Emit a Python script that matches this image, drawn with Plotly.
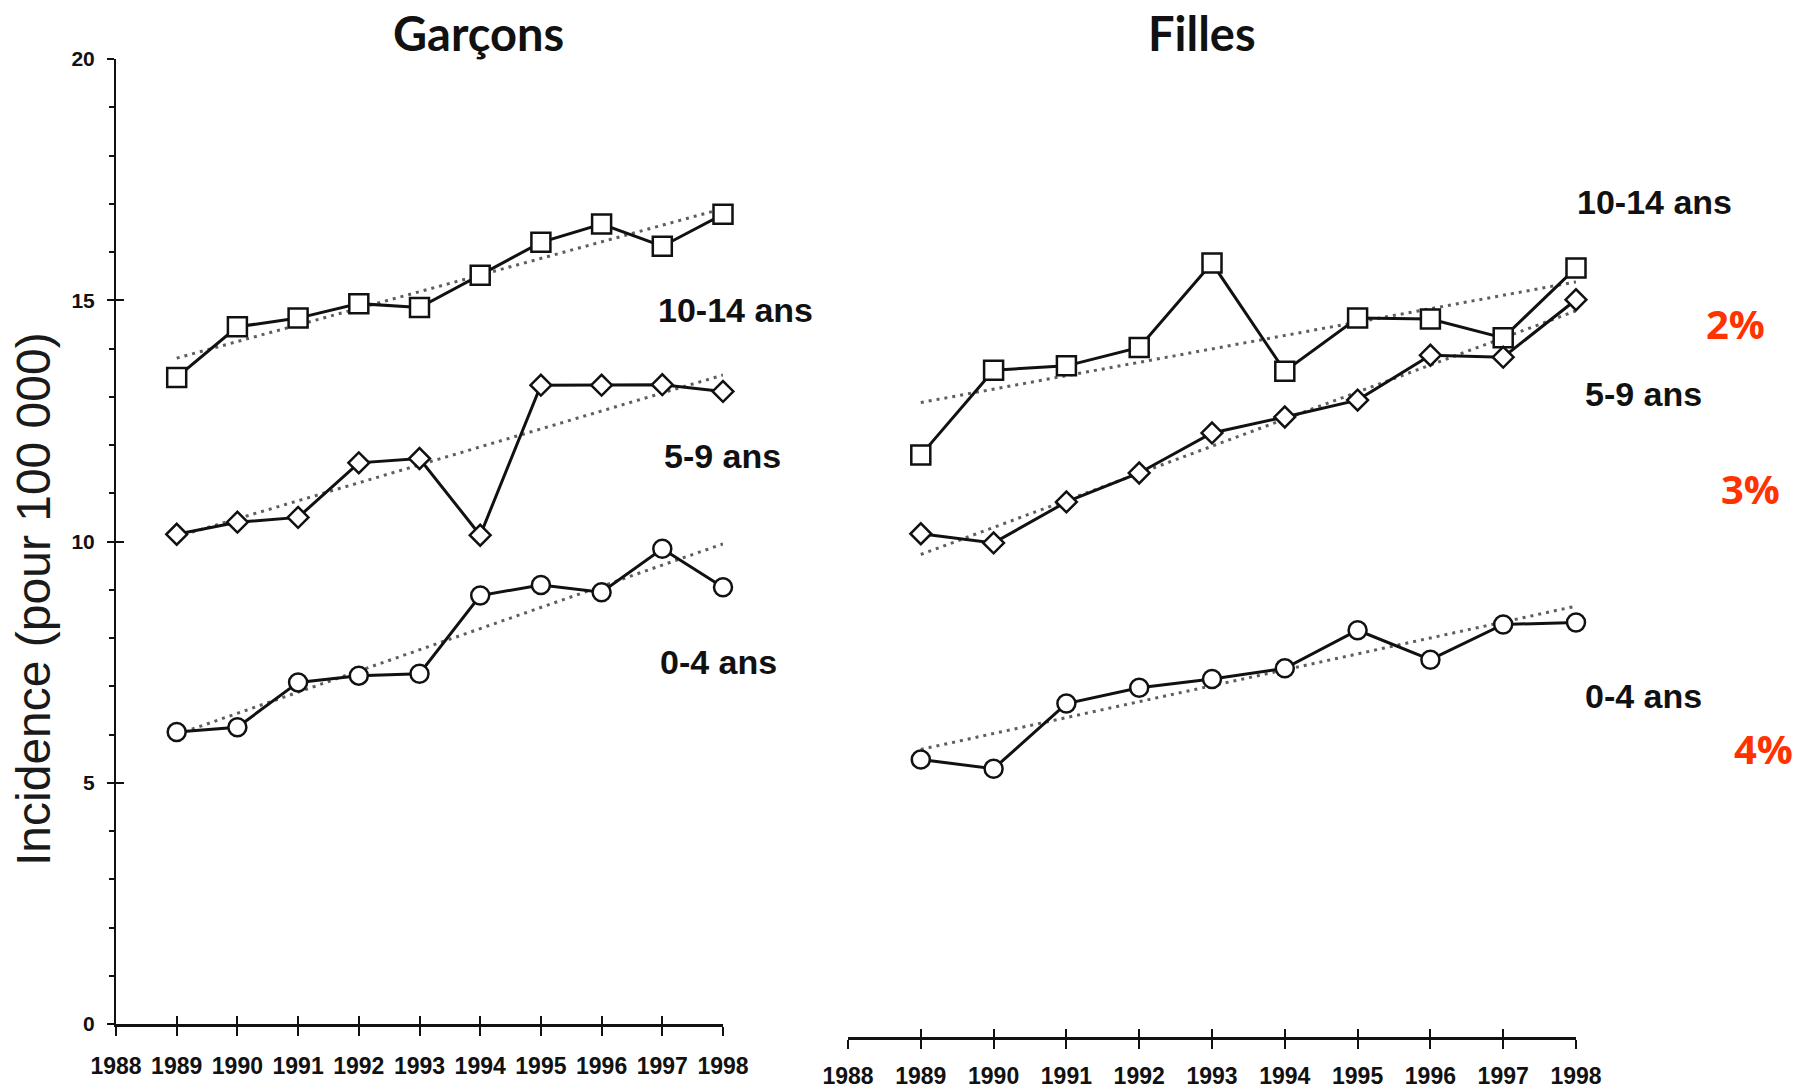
import plotly.graph_objects as go

W, H = 1797, 1092

years = [1989, 1990, 1991, 1992, 1993, 1994, 1995, 1996, 1997, 1998]
tick_years = [1988, 1989, 1990, 1991, 1992, 1993, 1994, 1995, 1996, 1997, 1998]

boys_10_14 = [13.4, 14.45, 14.63, 14.93, 14.85, 15.52, 16.2, 16.58, 16.12, 16.78]
boys_5_9 = [10.15, 10.4, 10.5, 11.63, 11.72, 10.13, 13.24, 13.24, 13.25, 13.11]
boys_0_4 = [6.05, 6.15, 7.08, 7.22, 7.26, 8.88, 9.1, 8.95, 9.85, 9.05]

girls_10_14 = [12.06, 13.82, 13.91, 14.29, 16.04, 13.8, 14.9, 14.88, 14.49, 15.94]
girls_5_9 = [10.43, 10.24, 11.09, 11.69, 12.52, 12.85, 13.2, 14.13, 14.09, 15.28]
girls_0_4 = [5.75, 5.56, 6.91, 7.24, 7.42, 7.64, 8.43, 7.82, 8.55, 8.59]

trend_years = [1989, 1998]
boys_trend_10_14 = [13.8, 16.9]
boys_trend_5_9 = [10.1, 13.45]
boys_trend_0_4 = [6.0, 9.95]
girls_trend_10_14 = [13.15, 15.65]
girls_trend_5_9 = [10.0, 15.05]
girls_trend_0_4 = [5.96, 8.93]

age_labels = ["10-14 ans", "5-9 ans", "0-4 ans"]
pct_labels = ["2%", "3%", "4%"]
panel_titles = ["Garçons", "Filles"]
y_title = "Incidence (pour 100 000)"


def px_x(p):
    return p / W


def px_y(p):
    return 1 - p / H


SANS = "Liberation Sans, Arial, sans-serif"
INK = "#111111"

fig = go.Figure()

series = [
    (boys_10_14, boys_trend_10_14, "square", 19, "x", "y"),
    (boys_5_9, boys_trend_5_9, "diamond", 16, "x", "y"),
    (boys_0_4, boys_trend_0_4, "circle", 18, "x", "y"),
    (girls_10_14, girls_trend_10_14, "square", 19, "x2", "y2"),
    (girls_5_9, girls_trend_5_9, "diamond", 16, "x2", "y2"),
    (girls_0_4, girls_trend_0_4, "circle", 18, "x2", "y2"),
]

for vals, trend, sym, size, xa, ya in series:
    fig.add_trace(go.Scatter(
        x=trend_years, y=trend, mode="lines", xaxis=xa, yaxis=ya,
        line=dict(color="#5e5e5e", width=3, dash="3px,5px"),
        showlegend=False, hoverinfo="skip", cliponaxis=False))
for vals, trend, sym, size, xa, ya in series:
    fig.add_trace(go.Scatter(
        x=years, y=vals, mode="lines+markers", xaxis=xa, yaxis=ya,
        line=dict(color=INK, width=3),
        marker=dict(symbol=sym, size=size, color="white",
                    line=dict(color=INK, width=2.5)),
        showlegend=False, cliponaxis=False))

# invisible helper traces for overlay axes (crossing ticks)
fig.add_trace(go.Scatter(x=[1988], y=[0], xaxis="x3", yaxis="y3", mode="markers",
                         marker=dict(opacity=0), showlegend=False, hoverinfo="skip"))
fig.add_trace(go.Scatter(x=[1988], y=[0], xaxis="x4", yaxis="y2", mode="markers",
                         marker=dict(opacity=0), showlegend=False, hoverinfo="skip"))

left_x = [px_x(116), px_x(723)]
right_x = [px_x(848), px_x(1576)]
left_y = [px_y(1024), px_y(59)]
right_y = [px_y(1037), px_y(72)]

xcommon = dict(range=[1988, 1998], tickvals=tick_years, showgrid=False, zeroline=False,
               showline=True, linecolor=INK, linewidth=3, ticks="outside", ticklen=9,
               tickwidth=2, tickcolor=INK, tickangle=0, automargin=False,
               tickfont=dict(family=SANS, size=23, color=INK, weight="bold"))

overlay_common = dict(ticks="inside", ticklen=8, tickwidth=2, tickcolor=INK,
                      showticklabels=False, showline=False, showgrid=False,
                      zeroline=False, automargin=False)

fig.update_layout(
    width=W, height=H,
    margin=dict(l=0, r=0, t=0, b=0, autoexpand=False),
    paper_bgcolor="white", plot_bgcolor="white",
    xaxis=dict(domain=left_x, anchor="y", ticklabelstandoff=10, **xcommon),
    yaxis=dict(domain=left_y, anchor="x", range=[0, 20], tickvals=[0, 5, 10, 15, 20],
               showgrid=False, zeroline=False, showline=True, linecolor=INK, linewidth=2,
               ticks="outside", ticklen=7, tickwidth=2, tickcolor=INK, automargin=False,
               tickfont=dict(family=SANS, size=21, color=INK, weight="bold"),
               ticklabelstandoff=8,
               minor=dict(dtick=1, ticks="outside", ticklen=5, tickwidth=1.5, tickcolor=INK)),
    xaxis2=dict(domain=right_x, anchor="y2", ticklabelstandoff=7, **xcommon),
    yaxis2=dict(domain=right_y, anchor="x2", range=[0, 20], visible=False, automargin=False),
    xaxis3=dict(domain=left_x, anchor="y3", overlaying="x", range=[1988, 1998],
                tickvals=tick_years, **overlay_common),
    yaxis3=dict(domain=left_y, anchor="x3", overlaying="y", range=[0, 20],
                tickvals=[0, 5, 10, 15, 20], **overlay_common),
    xaxis4=dict(domain=right_x, anchor="y2", overlaying="x2", range=[1988, 1998],
                tickvals=tick_years, **overlay_common),
)

annotations = []
for text, cx in zip(panel_titles, [478, 1202]):
    annotations.append(dict(text=text, x=px_x(cx), y=px_y(33), xref="paper", yref="paper",
                            showarrow=False, xanchor="center", yanchor="middle",
                            font=dict(family="Lato, Open Sans, sans-serif", size=47,
                                      color=INK, weight="bold")))
left_pos = [(735, 310), (722, 456), (718, 662)]
right_pos = [(1654, 202), (1643, 394), (1643, 696)]
for text, (cx, cy) in zip(age_labels, left_pos):
    annotations.append(dict(text=text, x=px_x(cx), y=px_y(cy), xref="paper", yref="paper",
                            showarrow=False, xanchor="center", yanchor="middle",
                            font=dict(family=SANS, size=34, color=INK, weight="bold")))
for text, (cx, cy) in zip(age_labels, right_pos):
    annotations.append(dict(text=text, x=px_x(cx), y=px_y(cy), xref="paper", yref="paper",
                            showarrow=False, xanchor="center", yanchor="middle",
                            font=dict(family=SANS, size=34, color=INK, weight="bold")))
pct_pos = [(1735, 323), (1750, 489), (1763, 748)]
for text, (cx, cy) in zip(pct_labels, pct_pos):
    annotations.append(dict(text=text, x=px_x(cx), y=px_y(cy), xref="paper", yref="paper",
                            showarrow=False, xanchor="center", yanchor="middle",
                            font=dict(family="Open Sans, Noto Sans, sans-serif", size=40,
                                      color="#ff3300", weight="bold")))
annotations.append(dict(text=y_title, x=px_x(33), y=px_y(599), xref="paper", yref="paper",
                        showarrow=False, xanchor="center", yanchor="middle", textangle=-90,
                        font=dict(family=SANS, size=48, color="#1a1a1a")))

fig.update_layout(annotations=annotations)

fig.write_html(
    "out.html",
    config={"displayModeBar": False},
    post_script="document.body.style.margin='0px';document.body.style.overflow='hidden';"
                "document.documentElement.style.overflow='hidden';",
)
